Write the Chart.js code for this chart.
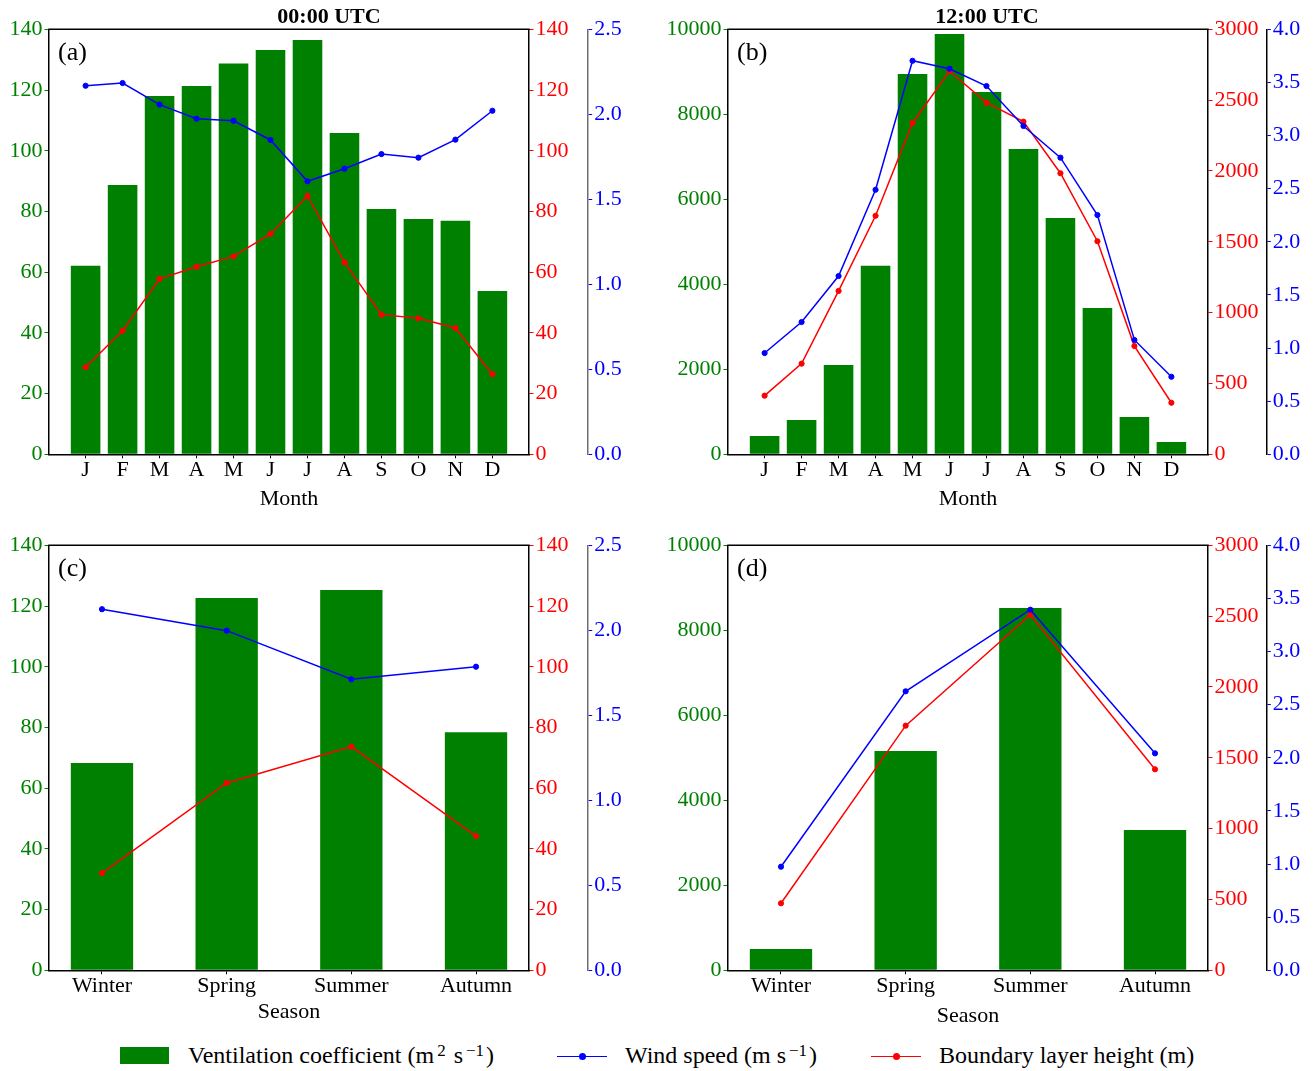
<!DOCTYPE html>
<html>
<head>
<meta charset="utf-8">
<title>Ventilation coefficient, wind speed and boundary layer height</title>
<script src="https://cdn.jsdelivr.net/npm/chart.js@4.4.1/dist/chart.umd.min.js"></script>
<style>
  html, body { margin: 0; padding: 0; background: #fff; }
  body { position: relative; width: 1316px; height: 1071px; overflow: hidden;
         font-family: 'Liberation Serif', 'Times New Roman', serif; }
  .panel { position: absolute; }
  .panel canvas { display: block; }
  .leg-patch { position: absolute; background: #008000; }
  .leg-line { position: absolute; height: 1.6px; }
  .leg-dot { position: absolute; width: 7px; height: 7px; border-radius: 50%; }
  .leg-text { position: absolute; font-size: 24px; line-height: 24px; color: #000; white-space: nowrap; }
  .leg-text sup { font-size: 17px; line-height: 0; vertical-align: 0.42em; margin: 0 2px 0 3px; }
</style>
</head>
<body>

<div class="panel" style="left:0px;top:0px;"><canvas id="panelA" width="658" height="520"></canvas></div>
<div class="panel" style="left:658px;top:0px;"><canvas id="panelB" width="658" height="520"></canvas></div>
<div class="panel" style="left:0px;top:520px;"><canvas id="panelC" width="658" height="510"></canvas></div>
<div class="panel" style="left:658px;top:520px;"><canvas id="panelD" width="658" height="510"></canvas></div>

<!-- shared legend -->
<div class="leg-patch" style="left:120px;top:1047px;width:49px;height:17px;"></div>
<div class="leg-text" style="left:188px;top:1043px;">Ventilation coefficient (m<sup>2</sup> s<sup>−1</sup>)</div>

<div class="leg-line" style="left:557px;top:1055.5px;width:50px;background:#0000ff;"></div>
<div class="leg-dot" style="left:578.5px;top:1052.8px;background:#0000ff;"></div>
<div class="leg-text" style="left:625px;top:1043px;">Wind speed (m s<sup>−1</sup>)</div>

<div class="leg-line" style="left:871px;top:1055.5px;width:50px;background:#ff0000;"></div>
<div class="leg-dot" style="left:892.5px;top:1052.8px;background:#ff0000;"></div>
<div class="leg-text" style="left:939px;top:1043px;">Boundary layer height (m)</div>

<script>
// ---- categories ----
const months  = ['J', 'F', 'M', 'A', 'M', 'J', 'J', 'A', 'S', 'O', 'N', 'D'];
const seasons = ['Winter', 'Spring', 'Summer', 'Autumn'];

// ---- 00:00 UTC, monthly ----
const ventMonthly00 = [62.1, 88.7, 118.0, 121.3, 128.7, 133.2, 136.5, 105.8, 80.8, 77.5, 76.9, 53.8];
const blhMonthly00  = [28.7, 40.7, 57.8, 61.8, 65.2, 72.6, 85.1, 63.2, 46.0, 44.8, 41.6, 26.4];
const windMonthly00 = [2.168, 2.184, 2.057, 1.974, 1.962, 1.849, 1.606, 1.680, 1.766, 1.745, 1.851, 2.021];

// ---- 12:00 UTC, monthly ----
const ventMonthly12 = [431, 807, 2101, 4438, 8948, 9889, 8525, 7184, 5560, 3442, 878, 289];
const blhMonthly12  = [414, 640, 1153, 1684, 2339, 2704, 2482, 2348, 1984, 1504, 764, 364];
const windMonthly12 = [0.953, 1.245, 1.678, 2.490, 3.704, 3.629, 3.466, 3.090, 2.792, 2.252, 1.076, 0.730];

// ---- 00:00 UTC, seasonal ----
const ventSeasonal00 = [68.3, 122.6, 125.3, 78.4];
const blhSeasonal00  = [32.0, 61.7, 73.7, 44.2];
const windSeasonal00 = [2.124, 1.998, 1.712, 1.786];

// ---- 12:00 UTC, seasonal ----
const ventSeasonal12 = [501, 5160, 8525, 3301];
const blhSeasonal12  = [473, 1727, 2510, 1419];
const windSeasonal12 = [0.975, 2.626, 3.394, 2.042];

// ---- axis tick settings ----
const ventAxis00 = { max: 140, step: 20 };
const blhAxis00  = { max: 140, step: 20 };
const windAxis00 = { max: 2.5, step: 0.5 };
const ventAxis12 = { max: 10000, step: 2000 };
const blhAxis12  = { max: 3000, step: 500 };
const windAxis12 = { max: 4.0, step: 0.5 };

const GREEN = '#008000', RED = '#ff0000', BLUE = '#0000ff';
const SERIF = "'Liberation Serif', 'Times New Roman', serif";
Chart.defaults.font.family = SERIF;

// Closes the axes box on top and writes the panel tag in the upper-left corner
const framePlugin = {
  id: 'frame',
  afterDraw(chart, args, opts) {
    const { ctx, chartArea: a } = chart;
    ctx.save();
    ctx.strokeStyle = '#000';
    ctx.lineWidth = 1.5;
    ctx.beginPath();
    ctx.moveTo(a.left - 0.75, a.top);
    ctx.lineTo(a.right + 0.75, a.top);
    ctx.stroke();
    ctx.fillStyle = '#000';
    ctx.font = '26px ' + SERIF;
    ctx.textAlign = 'left';
    ctx.textBaseline = 'alphabetic';
    ctx.fillText(opts.tag, a.left + 9, a.top + 30.5);
    ctx.restore();
  }
};

const asPoints = arr => arr.map((v, i) => ({ x: i, y: v }));

function yAxis(position, weight, axis, color, width, borderColor, decimals) {
  return {
    type: 'linear',
    position: position,
    weight: weight,
    min: 0,
    max: axis.max,
    afterFit: s => { s.width = width; },
    ticks: {
      stepSize: axis.step,
      color: color,
      padding: 2,
      font: { size: 22, lineHeight: 1.2 },
      callback: v => decimals ? Number(v).toFixed(decimals) : String(v)
    },
    grid: { display: true, drawOnChartArea: false, drawTicks: true, tickLength: 4.5, color: color, lineWidth: 1 },
    border: { display: true, color: borderColor, width: 1.5 }
  };
}

function makePanel(id, o) {
  const n = o.labels.length;
  const pad = o.monthly ? 0.99 : 0.425;
  return new Chart(document.getElementById(id), {
    type: 'bar',
    data: {
      datasets: [
        {
          type: 'line', label: 'Wind speed', data: asPoints(o.wind), yAxisID: 'yB',
          borderColor: BLUE, backgroundColor: BLUE, borderWidth: 1.5,
          pointRadius: 2.6, pointBorderWidth: 1, pointBackgroundColor: BLUE, pointBorderColor: BLUE,
          tension: 0, order: 0
        },
        {
          type: 'line', label: 'Boundary layer height', data: asPoints(o.blh), yAxisID: 'yR',
          borderColor: RED, backgroundColor: RED, borderWidth: 1.5,
          pointRadius: 2.6, pointBorderWidth: 1, pointBackgroundColor: RED, pointBorderColor: RED,
          tension: 0, order: 1
        },
        {
          type: 'bar', label: 'Ventilation coefficient', data: asPoints(o.vent), yAxisID: 'y',
          backgroundColor: GREEN, borderWidth: 0,
          barPercentage: o.monthly ? 0.8 : 0.5, categoryPercentage: 1.0, order: 2
        }
      ]
    },
    options: {
      responsive: false,
      animation: false,
      devicePixelRatio: 1,
      layout: { padding: { top: o.padTop, left: 0, right: 0, bottom: 0 } },
      plugins: {
        legend: { display: false },
        tooltip: { enabled: false },
        title: o.title ? {
          display: true, text: o.title, color: '#000',
          font: { size: 22, weight: 'bold', lineHeight: 0.9 },
          padding: { top: 7.3, bottom: 2.2 }
        } : { display: false },
        frame: { tag: o.tag }
      },
      scales: {
        x: {
          type: 'linear',
          min: -pad,
          max: (n - 1) + pad,
          offset: false,
          afterBuildTicks: s => { s.ticks = o.labels.map((_, i) => ({ value: i })); },
          afterFit: s => { s.height = o.xHeight; },
          ticks: {
            autoSkip: false, maxRotation: 0, minRotation: 0, padding: 0.5,
            color: '#000', font: { size: 22, lineHeight: 1.0 },
            callback: v => o.labels[v]
          },
          grid: { display: true, drawOnChartArea: false, drawTicks: true, tickLength: 4, color: '#000', offset: false },
          border: { display: true, color: '#000', width: 1.5 },
          title: {
            display: true, text: o.xTitle, color: '#000',
            font: { size: 22, lineHeight: 1.0 },
            padding: { top: 0, bottom: o.xTitlePad }
          }
        },
        y:  yAxis('left', 0, o.ventAxis, GREEN, o.leftWidth, '#000', 0),
        yR: yAxis('right', 0, o.blhAxis, RED, o.redWidth, '#000', 0),
        yB: yAxis('right', 1, o.windAxis, BLUE, o.blueWidth, o.blueSpine, 1)
      }
    },
    plugins: [framePlugin]
  });
}

makePanel('panelA', {
  monthly: true, labels: months, tag: '(a)', title: '00:00 UTC', padTop: 0,
  vent: ventMonthly00, blh: blhMonthly00, wind: windMonthly00,
  ventAxis: ventAxis00, blhAxis: blhAxis00, windAxis: windAxis00,
  leftWidth: 49, redWidth: 58.7, blueWidth: 70.3, blueSpine: '#6e6e6e',
  xHeight: 65.7, xTitle: 'Month', xTitlePad: 10
});

makePanel('panelB', {
  monthly: true, labels: months, tag: '(b)', title: '12:00 UTC', padTop: 0,
  vent: ventMonthly12, blh: blhMonthly12, wind: windMonthly12,
  ventAxis: ventAxis12, blhAxis: blhAxis12, windAxis: windAxis12,
  leftWidth: 70, redWidth: 58.3, blueWidth: 49.7, blueSpine: '#000',
  xHeight: 65.7, xTitle: 'Month', xTitlePad: 10
});

makePanel('panelC', {
  monthly: false, labels: seasons, tag: '(c)', title: null, padTop: 25.3,
  vent: ventSeasonal00, blh: blhSeasonal00, wind: windSeasonal00,
  ventAxis: ventAxis00, blhAxis: blhAxis00, windAxis: windAxis00,
  leftWidth: 49, redWidth: 58.7, blueWidth: 70.3, blueSpine: '#6e6e6e',
  xHeight: 59.7, xTitle: 'Season', xTitlePad: 6.4
});

makePanel('panelD', {
  monthly: false, labels: seasons, tag: '(d)', title: null, padTop: 25.3,
  vent: ventSeasonal12, blh: blhSeasonal12, wind: windSeasonal12,
  ventAxis: ventAxis12, blhAxis: blhAxis12, windAxis: windAxis12,
  leftWidth: 70, redWidth: 58.3, blueWidth: 49.7, blueSpine: '#000',
  xHeight: 59.7, xTitle: 'Season', xTitlePad: 3
});
</script>
</body>
</html>
